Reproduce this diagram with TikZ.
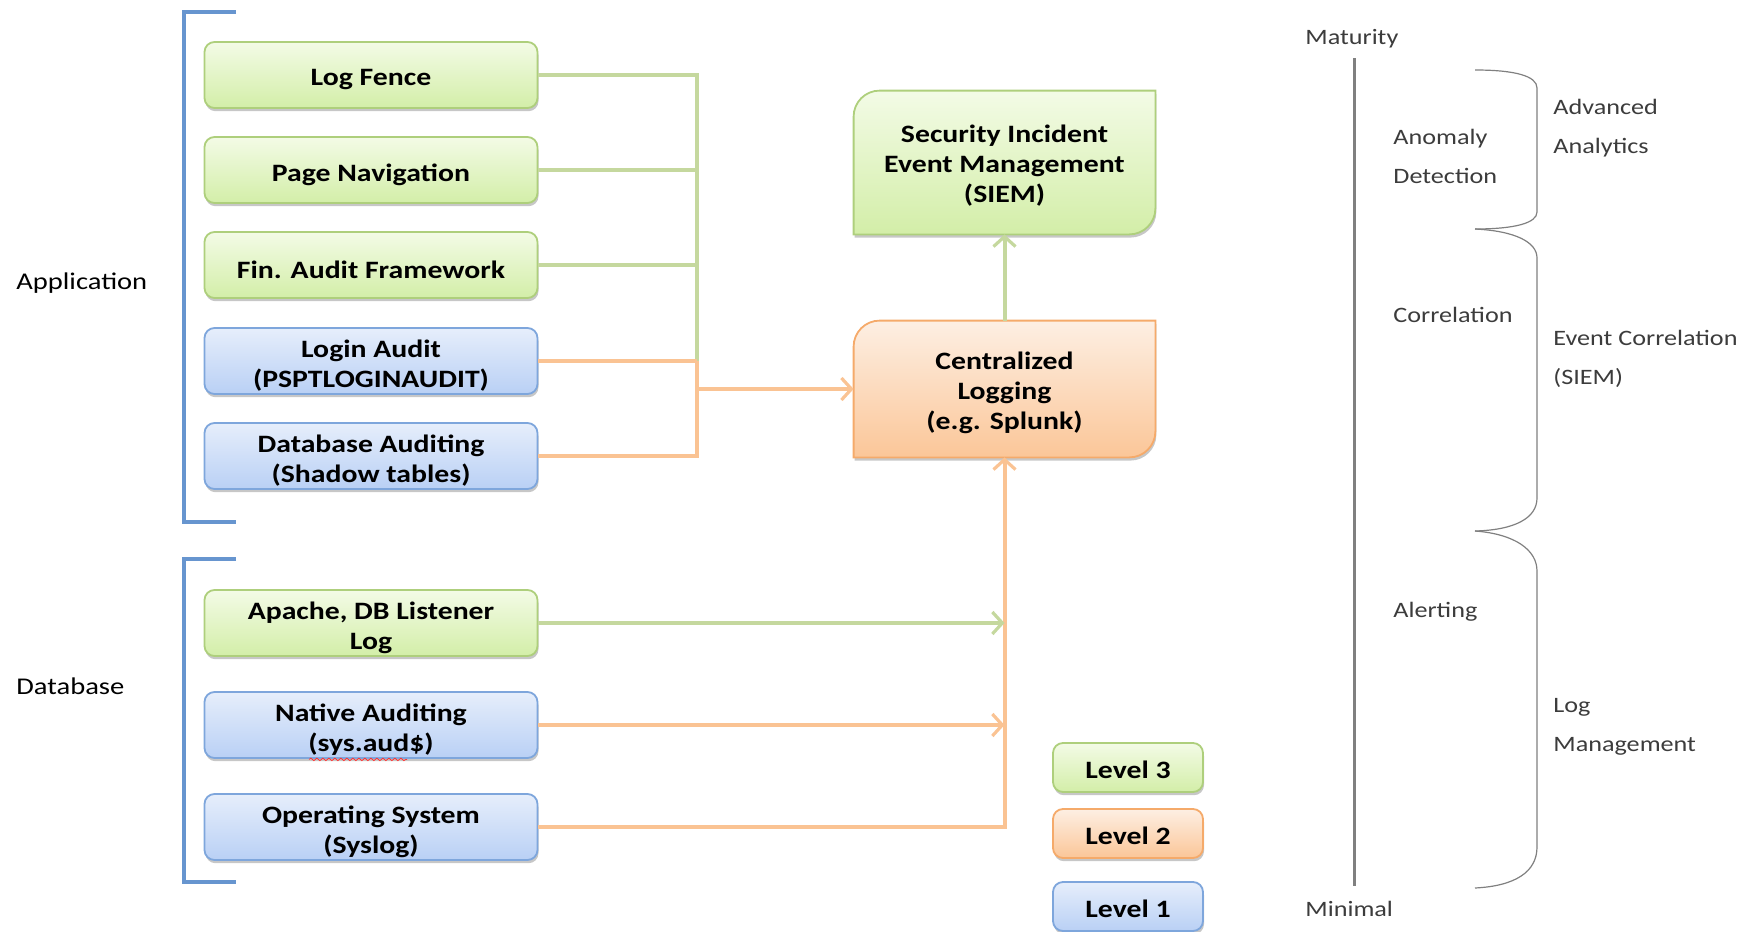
\documentclass[tikz,border=0pt]{standalone}
\usepackage{fontspec}
\setmainfont{Carlito}[FakeStretch=1.19]
\usetikzlibrary{arrows.meta,shadows,backgrounds,decorations.pathmorphing}
\definecolor{gtop}{HTML}{F3FBE6}
\definecolor{gbot}{HTML}{D3EEA8}
\definecolor{gdraw}{HTML}{AECF7C}
\definecolor{otop}{HTML}{FDEFE3}
\definecolor{obot}{HTML}{FBC698}
\definecolor{odraw}{HTML}{F5AA6A}
\definecolor{btop}{HTML}{E6EEFB}
\definecolor{bbot}{HTML}{B9D0F5}
\definecolor{bdraw}{HTML}{7EA6DC}
\definecolor{gline}{HTML}{C5D89E}
\definecolor{oline}{HTML}{FAC393}
\definecolor{brk}{HTML}{6795CF}
\definecolor{axis}{HTML}{808080}
\definecolor{rtxt}{HTML}{3C3C3C}
\newcommand\boxfont{\fontsize{12.5}{15}\selectfont\bfseries}
\newcommand\sidefont{\fontsize{11}{19.5}\selectfont}
\tikzset{
  x=0.5pt, y=-0.5pt,
  boxlbl/.style={yshift=#1, align=center, font=\boxfont, inner sep=0pt},
  box/.style={draw, line width=0.9pt, rounded corners=5pt, minimum width=166.5pt,
    minimum height=33pt, inner sep=0pt,
    drop shadow={shadow xshift=0.5pt, shadow yshift=-1.6pt, opacity=0.22, fill=black}},
  gbox/.style={box, draw=gdraw, top color=gtop, bottom color=gbot, label={[boxlbl=-2.2pt]center:{#1}}},
  obox/.style={box, draw=odraw, top color=otop, bottom color=obot, label={[boxlbl=-2.2pt]center:{#1}}},
  bbox/.style={box, draw=bdraw, top color=btop, bottom color=bbot, label={[boxlbl=-2.2pt]center:{#1}}},
  lgd/.style={box, minimum width=75pt, minimum height=24.5pt},
  glgd/.style={lgd, draw=gdraw, top color=gtop, bottom color=gbot, label={[boxlbl=-1.3pt]center:{#1}}},
  olgd/.style={lgd, draw=odraw, top color=otop, bottom color=obot, label={[boxlbl=-1.3pt]center:{#1}}},
  blgd/.style={lgd, draw=bdraw, top color=btop, bottom color=bbot, label={[boxlbl=-1.3pt]center:{#1}}},
  bignode/.style={inner sep=0pt, minimum width=150.5pt, label={[boxlbl=-1.8pt]center:{#1}}},
  gshape/.style={draw=gdraw, line width=0.9pt, top color=gtop, bottom color=gbot,
    drop shadow={shadow xshift=0.5pt, shadow yshift=-1.6pt, opacity=0.22, fill=black}},
  oshape/.style={draw=odraw, line width=0.9pt, top color=otop, bottom color=obot,
    drop shadow={shadow xshift=0.5pt, shadow yshift=-1.6pt, opacity=0.22, fill=black}},
  gconn/.style={draw=gline, line width=2pt},
  oconn/.style={draw=oline, line width=2pt},
  tip/.style={-{Straight Barb[length=5pt,width=11pt,line width=1.6pt]}},
  brack/.style={draw=brk, line width=2pt},
  side/.style={inner sep=0pt, anchor=west, align=left, font=\sidefont, text=rtxt},
  brace/.style={draw=axis, line width=0.6pt},
}
\begin{document}
\begin{tikzpicture}
\useasboundingbox (0,0) rectangle (1752,932);

% left labels
\node[inner sep=0pt, anchor=west, font=\fontsize{12}{14}\selectfont] (lapp) at (16,283) {Application};
\node[inner sep=0pt, anchor=west, font=\fontsize{12}{14}\selectfont] (ldb) at (16,686) {Database};

% brackets
\draw[brack] (236,12) -- (184,12) -- (184,522) -- (236,522);
\draw[brack] (236,559) -- (184,559) -- (184,882) -- (236,882);

% source boxes
\node[gbox={Log Fence}] (lf) at (371,75) {};
\node[gbox={Page Navigation}] (pn) at (371,170) {};
\node[gbox={Fin. Audit Framework}] (fa) at (371,265) {};
\node[bbox={Login Audit\\(PSPTLOGINAUDIT)}] (la) at (371,361) {};
\node[bbox={Database Auditing\\(Shadow tables)}] (da) at (371,456) {};
\node[gbox={Apache, DB Listener\\Log}] (ap) at (371,623) {};
\node[bbox={Native Auditing\\(sys.aud\$)}] (na) at (371,725) {};
\node[bbox={Operating System\\(Syslog)}] (os) at (371,827) {};
\draw[red!80, line width=0.4pt, decorate, decoration={snake, amplitude=0.6pt, segment length=3pt}]
  ([xshift=-31pt,yshift=-17.2pt]na.center) -- ([xshift=18pt,yshift=-17.2pt]na.center);

% central boxes
\node[bignode={Security Incident\\Event Management\\(SIEM)}, minimum height=71.5pt] (siem) at (1004.5,162.5) {};
\node[bignode={Centralized\\Logging\\(e.g. Splunk)}, minimum height=68pt] (cl) at (1004.5,389) {};
\begin{scope}[on background layer]
\path[gshape] (siem.south west) -- ([yshift=-13pt]siem.north west) arc[start angle=180, end angle=90, radius=13pt]
  -- (siem.north east) -- ([yshift=13pt]siem.south east) arc[start angle=0, end angle=-90, radius=13pt] -- cycle;
\path[oshape] (cl.south west) -- ([yshift=-13pt]cl.north west) arc[start angle=180, end angle=90, radius=13pt]
  -- (cl.north east) -- ([yshift=13pt]cl.south east) arc[start angle=0, end angle=-90, radius=13pt] -- cycle;
\end{scope}

% bus coordinates
\coordinate (jg) at (697,361);
\coordinate (jo) at (697,389);

% connectors
\draw[gconn] (lf.east) -| (jg);
\draw[gconn] (pn.east) -- (pn.east -| jg);
\draw[gconn] (fa.east) -- (fa.east -| jg);
\draw[oconn] (la.east) -- (jg);
\draw[oconn] (da.east) -| (jg);
\draw[oconn, tip] (jo) -- (cl.west);
\draw[gconn, tip] (cl.north) -- (siem.south);
\draw[oconn, tip] (os.east) -| (cl.south);
\draw[oconn, tip] (na.east) -- (na.east -| cl.south);
\draw[gconn, tip] (ap.east) -- (ap.east -| cl.south);

% legend
\node[glgd={Level 3}] (l3) at (1128,767.5) {};
\node[olgd={Level 2}] (l2) at (1128,833.5) {};
\node[blgd={Level 1}] (l1) at (1128,906.5) {};

% maturity axis
\node[side] (mat) at (1305,39) {Maturity};
\node[side] (mini) at (1305,909) {Minimal};
\draw[draw=axis, line width=1.5pt] (1354,58) -- (1354,886);

% braces
\draw[brace] (1475,70) .. controls (1515,70) and (1537,76) .. (1537,88) -- (1537,212)
  .. controls (1537,223) and (1515,229) .. (1475,229);
\draw[brace] (1475,229) .. controls (1515,231) and (1537,242) .. (1537,258) -- (1537,498)
  .. controls (1537,518) and (1515,530) .. (1475,531);
\draw[brace] (1475,531) .. controls (1515,534) and (1537,550) .. (1537,571) -- (1537,847)
  .. controls (1537,872) and (1515,886) .. (1475,888);

% stage labels
\node[side] (anom) at (1393,156) {Anomaly\\Detection};
\node[side] (corr) at (1393,315) {Correlation};
\node[side] (alert) at (1393,612) {Alerting};
\node[side] (adv) at (1553,128) {Advanced\\Analytics};
\node[side] (evc) at (1553,359) {Event Correlation\\(SIEM)};
\node[side] (logm) at (1553,727) {Log\\Management};
\end{tikzpicture}
\end{document}
